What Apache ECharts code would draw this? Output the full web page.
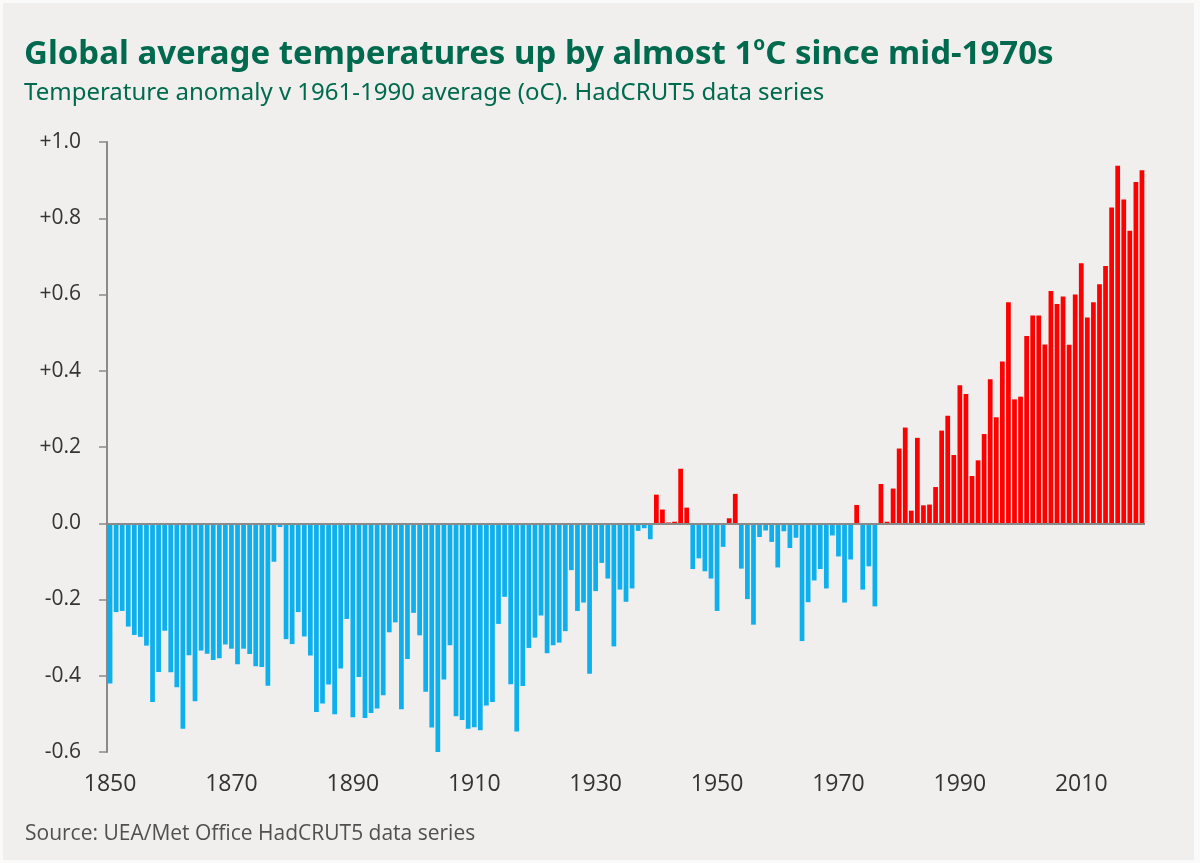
<!DOCTYPE html>
<html>
<head>
<meta charset="utf-8">
<title>Global average temperatures</title>
<script src="https://cdn.jsdelivr.net/npm/echarts@6/dist/echarts.min.js"></script>
<style>
  html, body { margin: 0; padding: 0; background: #fafafa; }
  #main { position: absolute; left: 3px; top: 3px; width: 1191px; height: 857px; background: #f0efee; }
</style>
</head>
<body>
<div id="main"></div>
<script>
// HadCRUT5 annual anomaly v 1961-1990 average
var firstYear = 1850;
var anomaly = [
  -0.420,-0.233,-0.230,-0.271,-0.293,-0.298,-0.321,-0.469,-0.390,-0.282,
  -0.391,-0.430,-0.539,-0.346,-0.467,-0.334,-0.342,-0.359,-0.354,-0.318,
  -0.329,-0.370,-0.329,-0.343,-0.375,-0.377,-0.426,-0.101,-0.010,-0.304,
  -0.317,-0.233,-0.297,-0.347,-0.495,-0.473,-0.423,-0.501,-0.381,-0.251,
  -0.509,-0.403,-0.511,-0.498,-0.486,-0.451,-0.286,-0.260,-0.488,-0.356,
  -0.235,-0.294,-0.442,-0.536,-0.601,-0.410,-0.320,-0.506,-0.516,-0.539,
  -0.535,-0.543,-0.478,-0.469,-0.264,-0.193,-0.422,-0.546,-0.427,-0.327,
  -0.300,-0.242,-0.341,-0.320,-0.313,-0.283,-0.123,-0.230,-0.208,-0.395,
  -0.178,-0.104,-0.145,-0.323,-0.174,-0.206,-0.171,-0.020,-0.013,-0.042,
   0.075, 0.036, 0.002, 0.004, 0.143, 0.041,-0.120,-0.092,-0.126,-0.145,
  -0.230,-0.062, 0.013, 0.077,-0.119,-0.199,-0.266,-0.036,-0.019,-0.049,
  -0.116,-0.021,-0.065,-0.038,-0.309,-0.207,-0.150,-0.120,-0.171,-0.032,
  -0.087,-0.208,-0.095, 0.048,-0.174,-0.113,-0.218, 0.103, 0.004, 0.091,
   0.196, 0.251, 0.033, 0.224, 0.047, 0.049, 0.095, 0.243, 0.282, 0.179,
   0.362, 0.339, 0.124, 0.165, 0.234, 0.378, 0.278, 0.424, 0.580, 0.325,
   0.332, 0.491, 0.545, 0.545, 0.469, 0.609, 0.575, 0.595, 0.468, 0.600,
   0.682, 0.540, 0.580, 0.627, 0.675, 0.828, 0.938, 0.849, 0.767, 0.895,
   0.926
];
var years = [];
for (var i = 0; i < anomaly.length; i++) {
  years.push(String(firstYear + i));
}
var yTicks = { min: -0.6, max: 1.0, step: 0.2 };

var chart = echarts.init(document.getElementById('main'));
var green = '#006a4e';

var option = {
  backgroundColor: '#f0efee',
  animation: false,
  title: [{
    text: 'Global average temperatures up by almost 1{sup|o}C since mid-1970s',
    left: 16,
    top: 27,
    textStyle: {
      color: green,
      fontFamily: 'Noto Sans',
      fontWeight: 'bold',
      fontSize: 33,
      rich: {
        sup: { color: green, fontFamily: 'Noto Sans', fontWeight: 'bold', fontSize: 19, verticalAlign: 'top', padding: [0, 0, 20, 0] }
      }
    },
    subtext: 'Temperature anomaly v 1961-1990 average (oC). HadCRUT5 data series',
    itemGap: 10,
    subtextStyle: {
      color: green,
      fontFamily: 'Noto Sans',
      fontSize: 24
    }
  }, {
    text: 'Source: UEA/Met Office HadCRUT5 data series',
    left: 17,
    top: 816,
    textStyle: {
      color: '#505050',
      fontFamily: 'Open Sans',
      fontWeight: 'normal',
      fontSize: 21
    }
  }],
  grid: {
    left: 104,
    right: 49,
    top: 139,
    bottom: 108,
    containLabel: false
  },
  xAxis: {
    type: 'category',
    data: years,
    boundaryGap: true,
    axisLine: { show: false },
    axisTick: { show: false },
    axisLabel: {
      interval: function (index) { return index % 20 === 0; },
      color: '#333333',
      fontFamily: 'Open Sans',
      fontSize: 23,
      margin: 21
    }
  },
  yAxis: {
    type: 'value',
    min: yTicks.min,
    max: yTicks.max,
    interval: yTicks.step,
    axisLine: { show: true, lineStyle: { color: '#8a8a8a', width: 2 } },
    axisTick: { show: true, length: 8, lineStyle: { color: '#8a8a8a', width: 1.5 } },
    splitLine: { show: false },
    axisLabel: {
      color: '#333333',
      fontFamily: 'Open Sans',
      fontSize: 21,
      margin: 26,
      formatter: function (v) {
        if (Math.abs(v) < 1e-9) return '0.0';
        return (v > 0 ? '+' : '') + v.toFixed(1);
      }
    }
  },
  series: [{
    type: 'bar',
    data: anomaly,
    barCategoryGap: '22%',
    itemStyle: {
      color: function (params) {
        return params.value >= 0 ? '#ff0000' : '#0db0ec';
      }
    },
    markLine: {
      silent: true,
      symbol: 'none',
      label: { show: false },
      lineStyle: { color: '#8a8a8a', width: 2, type: 'solid' },
      data: [{ yAxis: 0 }]
    }
  }]
};

chart.setOption(option);
window.addEventListener('resize', function () {
  chart.resize();
});
</script>
</body>
</html>
